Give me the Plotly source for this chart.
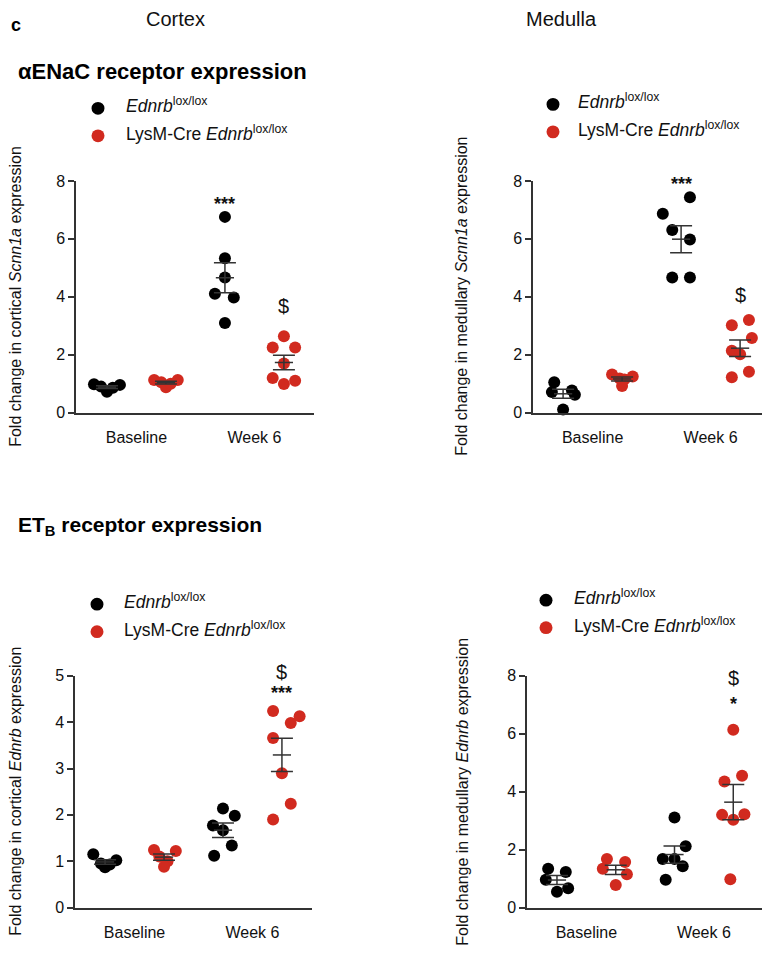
import numpy as np
import plotly.graph_objects as go

# the page body has an 8px margin: the figure is placed so it ends at the window's edges
OFF = 8
W, H = 770 - OFF, 955 - 2 * OFF
BLACK = "#000000"
RED = "#d12a1f"
BAR = "#333333"
FONT = "Liberation Sans, Arial, Helvetica, sans-serif"

# ---------------- data ----------------
CATEGORIES = ["Baseline", "Week 6"]
GROUPS = ["Ednrb lox/lox", "LysM-Cre Ednrb lox/lox"]
GROUP_POS = [0, 1, 2, 3]          # lox baseline, cre baseline, lox week 6, cre week 6
X_TICK_VALS = [0.5, 2.5]

# cortex, Scnn1a
a_lox_base = [0.98, 0.90, 0.72, 0.86, 0.96]
a_lox_base_dx = [-0.22, -0.10, 0.0, 0.10, 0.22]
a_cre_base = [1.13, 1.05, 0.88, 1.00, 1.13]
a_cre_base_dx = [-0.20, -0.08, 0.0, 0.08, 0.20]
a_lox_w6 = [6.76, 5.33, 4.67, 4.11, 3.98, 3.10]
a_lox_w6_dx = [0.0, 0.0, 0.0, -0.17, 0.15, 0.0]
a_cre_w6 = [2.64, 2.25, 2.25, 1.70, 1.20, 1.10, 0.99]
a_cre_w6_dx = [0.0, -0.19, 0.19, 0.0, -0.19, 0.19, 0.0]

# medulla, Scnn1a
b_lox_base = [1.05, 0.71, 0.11, 0.77, 0.62]
b_lox_base_dx = [-0.15, -0.19, 0.0, 0.15, 0.20]
b_cre_base = [1.32, 1.25, 1.18, 1.15, 0.92]
b_cre_base_dx = [-0.17, 0.18, -0.04, 0.04, 0.0]
b_lox_w6 = [7.44, 6.87, 6.31, 5.98, 4.67, 4.67]
b_lox_w6_dx = [0.15, -0.31, -0.15, 0.15, -0.15, 0.15]
b_cre_w6 = [3.20, 3.02, 2.58, 2.14, 2.02, 1.41, 1.22]
b_cre_w6_dx = [0.15, -0.14, 0.20, -0.14, 0.0, 0.15, -0.14]

# cortex, Ednrb
c_lox_base = [1.15, 0.95, 0.87, 0.93, 1.02]
c_lox_base_dx = [-0.20, -0.07, 0.0, 0.08, 0.19]
c_cre_base = [1.24, 1.22, 1.10, 1.00, 0.88]
c_cre_base_dx = [-0.17, 0.20, -0.08, 0.06, 0.0]
c_lox_w6 = [2.14, 1.98, 1.77, 1.67, 1.34, 1.12]
c_lox_w6_dx = [0.0, 0.20, -0.17, 0.0, 0.15, -0.15]
c_cre_w6 = [4.24, 4.13, 3.98, 3.66, 2.90, 2.24, 1.90]
c_cre_w6_dx = [-0.15, 0.30, 0.15, -0.15, 0.0, 0.15, -0.15]

# medulla, Ednrb
d_lox_base = [1.34, 1.23, 0.96, 0.67, 0.55]
d_lox_base_dx = [-0.15, 0.15, -0.19, 0.19, 0.0]
d_cre_base = [1.68, 1.57, 1.34, 1.15, 0.78]
d_cre_base_dx = [-0.15, 0.16, -0.22, 0.19, 0.0]
d_lox_w6 = [3.11, 2.12, 1.68, 1.68, 1.43, 0.96]
d_lox_w6_dx = [0.0, 0.19, -0.20, 0.0, 0.14, -0.15]
d_cre_w6 = [6.14, 4.55, 4.35, 3.22, 3.20, 3.03, 0.98]
d_cre_w6_dx = [0.0, 0.15, -0.15, 0.19, -0.19, 0.0, -0.05]

Y_TICKS_A = [0, 2, 4, 6, 8]
Y_TICKS_B = [0, 2, 4, 6, 8]
Y_TICKS_C = [0, 1, 2, 3, 4, 5]
Y_TICKS_D = [0, 2, 4, 6, 8]

# significance labels: (panel index, group position, value level, text)
SIG_MARKS = [
    (0, 2, 7.22, "***"), (0, 3, 3.70, "$"),
    (1, 2, 7.90, "***"), (1, 3, 4.05, "$"),
    (2, 3, 4.64, "***"), (2, 3, 5.08, "$"),
    (3, 3, 7.02, "*"), (3, 3, 7.92, "$"),
]

# ---------------- layout helpers (window pixels -> paper) ----------------
def px(x):
    return (x - OFF) / W

def py(y):
    return 1 - (y - OFF) / H

panels = [
    dict(groups=[(a_lox_base, a_lox_base_dx), (a_cre_base, a_cre_base_dx),
                 (a_lox_w6, a_lox_w6_dx), (a_cre_w6, a_cre_w6_dx)],
         xdom=(76, 314), ydom=(176, 412), xr=(-0.525, 3.51), yr=(0, 8), yticks=Y_TICKS_A,
         ytitle="Fold change in cortical <i>Scnn1a</i> expression", ytx=16),
    dict(groups=[(b_lox_base, b_lox_base_dx), (b_cre_base, b_cre_base_dx),
                 (b_lox_w6, b_lox_w6_dx), (b_cre_w6, b_cre_w6_dx)],
         xdom=(533, 769), ydom=(176, 412), xr=(-0.51, 3.49), yr=(0, 8), yticks=Y_TICKS_B,
         ytitle="Fold change in medullary <i>Scnn1a</i> expression", ytx=462),
    dict(groups=[(c_lox_base, c_lox_base_dx), (c_cre_base, c_cre_base_dx),
                 (c_lox_w6, c_lox_w6_dx), (c_cre_w6, c_cre_w6_dx)],
         xdom=(75, 312), ydom=(680, 916), xr=(-0.51, 3.51), yr=(0, 5), yticks=Y_TICKS_C,
         ytitle="Fold change in cortical <i>Ednrb</i> expression", ytx=16),
    dict(groups=[(d_lox_base, d_lox_base_dx), (d_cre_base, d_cre_base_dx),
                 (d_lox_w6, d_lox_w6_dx), (d_cre_w6, d_cre_w6_dx)],
         xdom=(527, 765), ydom=(680, 916), xr=(-0.51, 3.54), yr=(0, 8), yticks=Y_TICKS_D,
         ytitle="Fold change in medullary <i>Ednrb</i> expression", ytx=463),
]
GROUP_COLORS = [BLACK, RED, BLACK, RED]


def data_to_paper(p, xv, yv):
    x0, x1 = p["xdom"]
    y0, y1 = p["ydom"]
    xpix = x0 + (xv - p["xr"][0]) / (p["xr"][1] - p["xr"][0]) * (x1 - x0)
    ypix = y1 - (yv - p["yr"][0]) / (p["yr"][1] - p["yr"][0]) * (y1 - y0)
    return px(xpix), py(ypix)


fig = go.Figure()
annotations = []
shapes = []

for i, p in enumerate(panels):
    k = "" if i == 0 else str(i + 1)
    xa, ya = "x" + k, "y" + k
    for (vals, dx), pos, col in zip(p["groups"], GROUP_POS, GROUP_COLORS):
        xs = [pos + d for d in dx]
        fig.add_trace(go.Scatter(x=xs, y=vals, mode="markers", xaxis=xa, yaxis=ya,
                                 marker=dict(size=12, color=col, line=dict(width=0)),
                                 cliponaxis=False, showlegend=False, hoverinfo="y"))
    for (vals, dx), pos in zip(p["groups"], GROUP_POS):
        arr = np.array(vals)
        m = arr.mean()
        sem = arr.std(ddof=1) / np.sqrt(len(arr))
        fig.add_trace(go.Scatter(x=[pos], y=[m], mode="markers", xaxis=xa, yaxis=ya,
                                 marker=dict(symbol="line-ew", size=13, color=BAR,
                                             line=dict(width=1.5, color=BAR)),
                                 error_y=dict(type="data", array=[sem], width=11,
                                              thickness=1.5, color=BAR),
                                 cliponaxis=False, showlegend=False, hoverinfo="y"))
    fig.layout["xaxis" + k] = dict(
        domain=[px(p["xdom"][0]), min(1.0, px(p["xdom"][1]))], range=list(p["xr"]),
        anchor=ya, showline=True, linecolor=BAR, linewidth=1.5, showgrid=False,
        zeroline=False, tickvals=X_TICK_VALS, ticktext=CATEGORIES,
        ticks="outside", ticklen=9, tickcolor="rgba(0,0,0,0)",
        tickfont=dict(size=16, color="#111", family=FONT), fixedrange=True)
    fig.layout["yaxis" + k] = dict(
        domain=[py(p["ydom"][1]), py(p["ydom"][0])], range=list(p["yr"]),
        anchor=xa, showline=True, linecolor=BAR, linewidth=1.5, showgrid=False,
        zeroline=False, tickvals=p["yticks"], ticks="outside", ticklen=6,
        tickwidth=1.5, tickcolor=BAR, tickfont=dict(size=16, color="#111", family=FONT),
        fixedrange=True)
    annotations.append(dict(text=p["ytitle"], textangle=-90, x=px(p["ytx"]),
                            y=py((p["ydom"][0] + p["ydom"][1]) / 2),
                            xanchor="center", yanchor="middle",
                            font=dict(size=16, color="#111", family=FONT)))

# significance marks
for pi, gx, lvl, t in SIG_MARKS:
    xx, yy = data_to_paper(panels[pi], gx, lvl)
    txt = "<b>" + t + "</b>" if "*" in t else t
    annotations.append(dict(text=txt, x=xx, y=yy, xanchor="center", yanchor="middle",
                            font=dict(size=18 if "*" in t else 20, color="#111", family=FONT)))

# headings
annotations += [
    dict(text="<b>c</b>", x=px(9), y=py(17), xanchor="left", yanchor="middle",
         font=dict(size=18, color="#000", family=FONT)),
    dict(text="Cortex", x=px(175), y=py(11), xanchor="center", yanchor="middle",
         font=dict(size=20, color="#111", family=FONT)),
    dict(text="Medulla", x=px(561), y=py(11), xanchor="center", yanchor="middle",
         font=dict(size=20, color="#111", family=FONT)),
    dict(text="<b>αENaC receptor expression</b>", x=px(16), y=py(65), xanchor="left",
         yanchor="middle", font=dict(size=22, color="#000", family=FONT)),
    dict(text="<b>ET<sub>B</sub> receptor expression</b>", x=px(16), y=py(527),
         xanchor="left", yanchor="middle", font=dict(size=21, color="#000", family=FONT)),
]

# legends
legend_spots = [(98, 102, 124), (553, 98, 576), (97, 607, 122), (546, 603, 572)]
legend_labels = ["<i>Ednrb</i><sup>lox/lox</sup>", "LysM-Cre <i>Ednrb</i><sup>lox/lox</sup>"]
r = 6.5
for cx, cy, tx in legend_spots:
    for j, (lab, col) in enumerate(zip(legend_labels, [BLACK, RED])):
        yy = cy + 28 * j
        shapes.append(dict(type="circle", xref="paper", yref="paper",
                           x0=px(cx - r), x1=px(cx + r), y0=py(yy + r), y1=py(yy - r),
                           fillcolor=col, line=dict(width=0)))
        annotations.append(dict(text=lab, x=px(tx), y=py(yy - 3), xanchor="left",
                                yanchor="middle",
                                font=dict(size=17.5, color="#111", family=FONT)))

for a in annotations:
    a.setdefault("showarrow", False)
    a.setdefault("xref", "paper")
    a.setdefault("yref", "paper")

fig.update_layout(width=W, height=H, margin=dict(l=0, r=0, t=0, b=0),
                  paper_bgcolor="white", plot_bgcolor="white",
                  annotations=annotations, shapes=shapes, showlegend=False,
                  font=dict(family=FONT))
fig.write_html("out.html")
